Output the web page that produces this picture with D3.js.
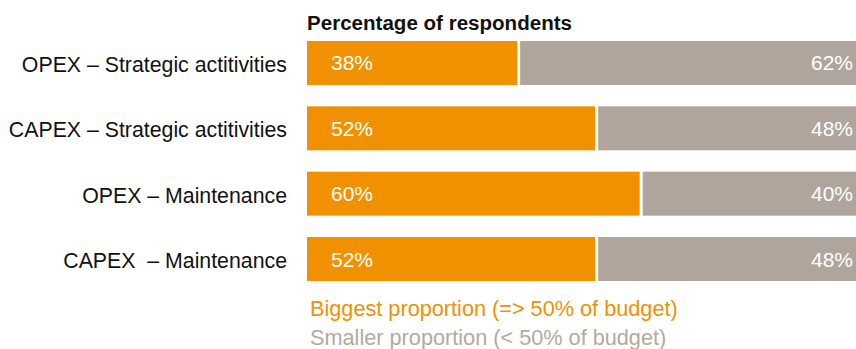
<!DOCTYPE html>
<html>
<head>
<meta charset="utf-8">
<script src="https://cdn.jsdelivr.net/npm/d3@7"></script>
<style>
  html, body { margin: 0; padding: 0; background: #fff; overflow: hidden; }
  svg { display: block; font-family: "Liberation Sans", Arial, Helvetica, sans-serif; }
  svg text { white-space: pre; }
</style>
</head>
<body>
<svg id="chart" width="856" height="349"></svg>
<script>
// Budget share by spending type
const categories = [
  "OPEX \u2013 Strategic actitivities",
  "CAPEX \u2013 Strategic actitivities",
  "OPEX \u2013 Maintenance",
  "CAPEX  \u2013 Maintenance"
];
const biggest = [38, 52, 60, 52];
const smaller = [62, 48, 40, 48];
const legendLabels = [
  "Biggest proportion (=> 50% of budget)",
  "Smaller proportion (< 50% of budget)"
];
const title = "Percentage of respondents";

const orange = "#f29100";
const grey = "#afa59c";

const svg = d3.select("#chart");

const x = d3.scaleLinear().domain([0, 100]).range([307, 864]);
const y = d3.scaleBand().domain(categories).range([41, 281]).paddingInner(0.327).paddingOuter(0);

const rows = categories.map((c, i) => ({ cat: c, big: biggest[i], small: smaller[i] }));

svg.append("text")
  .attr("x", 307).attr("y", 30)
  .attr("font-size", 20).attr("font-weight", "bold").attr("fill", "#111")
  .attr("textLength", 265).attr("lengthAdjust", "spacingAndGlyphs")
  .text(title);

const g = svg.append("g").selectAll("g").data(rows).join("g")
  .attr("transform", d => `translate(0,${y(d.cat)})`);

const gap = 1.5;
g.append("rect")
  .attr("x", x(0))
  .attr("width", d => x(d.big) - x(0) - gap)
  .attr("height", y.bandwidth())
  .attr("fill", orange);

g.append("rect")
  .attr("x", d => x(d.big) + gap)
  .attr("width", d => x(d.big + d.small) - x(d.big) - gap)
  .attr("height", y.bandwidth())
  .attr("fill", grey);

const mid = y.bandwidth() / 2 + 7.5;

g.append("text")
  .attr("x", 331)
  .attr("y", mid)
  .attr("font-size", 21).attr("fill", "#fff")
  .text(d => d.big + "%");

g.append("text")
  .attr("x", 853)
  .attr("y", mid)
  .attr("text-anchor", "end")
  .attr("font-size", 21).attr("fill", "#fff")
  .text(d => d.small + "%");

g.append("text")
  .attr("x", 287)
  .attr("y", mid + 1.5)
  .attr("text-anchor", "end")
  .attr("font-size", 21.3).attr("fill", "#111")
  .text(d => d.cat);

svg.append("g").selectAll("text").data(legendLabels).join("text")
  .attr("x", 310)
  .attr("y", (d, i) => 316 + i * 29)
  .attr("font-size", 21.7)
  .attr("fill", (d, i) => i === 0 ? orange : "#b3aaa1")
  .text(d => d);
</script>
</body>
</html>
